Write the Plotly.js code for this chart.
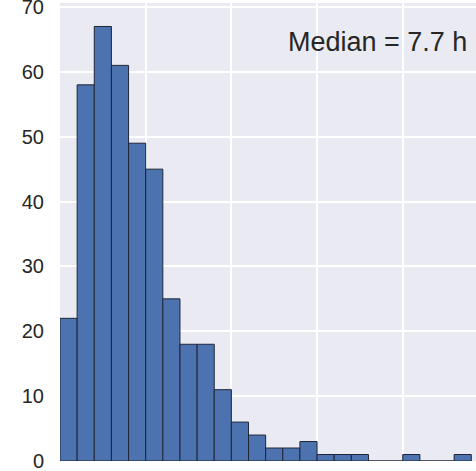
<!DOCTYPE html>
<html>
<head>
<meta charset="utf-8">
<script src="https://cdn.plot.ly/plotly-3.0.1.min.js"></script>
<style>html,body{margin:0;padding:0;background:#fff;}</style>
</head>
<body>
<div id="chart" style="width:476px;height:471px;"></div>
<script>
// Histogram bins (hours), bin width 2 h
var binStarts = [0, 2, 4, 6, 8, 10, 12, 14, 16, 18, 20, 22, 24, 26, 28, 30, 32, 34, 36, 38, 40, 42, 44, 46];
var counts    = [22, 58, 67, 61, 49, 45, 25, 18, 18, 11, 6, 4, 2, 2, 3, 1, 1, 1, 0, 0, 1, 0, 0, 1];
var binWidth = 2;
var yTicks = [0, 10, 20, 30, 40, 50, 60, 70];
var medianLabel = "Median = 7.7 h";

var trace = {
  type: 'bar',
  x: binStarts,
  y: counts,
  width: binStarts.map(function(){return binWidth;}),
  offset: 0,
  marker: {color: '#4C72B0', line: {color: '#1f2636', width: 1}},
  hoverinfo: 'skip'
};

var layout = {
  width: 476, height: 471,
  margin: {l: 60, r: 0, t: 3, b: 10, pad: 0},
  paper_bgcolor: '#ffffff',
  plot_bgcolor: '#EAEAF2',
  font: {family: '"Liberation Sans", Arial, sans-serif', color: '#262626'},
  bargap: 0,
  showlegend: false,
  xaxis: {
    range: [0, 48.55],
    dtick: 10, tick0: 0,
    showticklabels: false,
    showgrid: true, gridcolor: '#ffffff', gridwidth: 2,
    zeroline: false, showline: false, ticks: ''
  },
  yaxis: {
    range: [0, 70.62],
    tickvals: yTicks,
    ticktext: yTicks.map(String),
    tickfont: {size: 20, color: '#262626'},
    showgrid: true, gridcolor: '#ffffff', gridwidth: 2,
    zeroline: false, showline: false, ticks: '',
    ticklabelstandoff: 15,
    ticklabeloverflow: 'allow'
  },
  annotations: [{
    text: medianLabel,
    xref: 'paper', yref: 'paper',
    x: 0.984, y: 0.915,
    xanchor: 'right', yanchor: 'middle',
    showarrow: false,
    font: {size: 27, color: '#262626'}
  }]
};

Plotly.newPlot('chart', [trace], layout, {staticPlot: true, displayModeBar: false});
</script>
</body>
</html>
